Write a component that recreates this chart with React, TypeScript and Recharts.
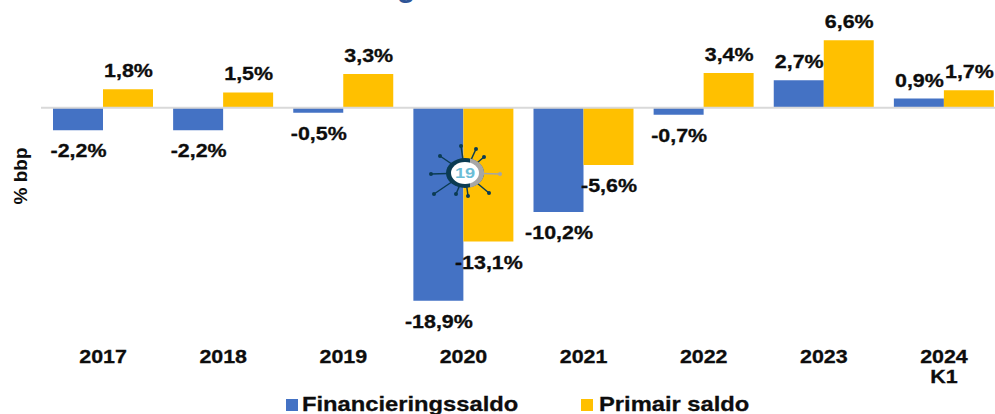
import { BarChart, Bar, XAxis, YAxis, Legend, LabelList, ReferenceLine } from 'recharts';

const years = ['2017', '2018', '2019', '2020', '2021', '2022', '2023', '2024 K1'];
const financieringssaldo = [-2.2, -2.2, -0.5, -18.9, -10.2, -0.7, 2.7, 0.9];
const primairSaldo = [1.8, 1.5, 3.3, -13.1, -5.6, 3.4, 6.6, 1.7];

const BLUE = '#4472C4';
const YELLOW = '#FFC000';
const INK = '#0d0d0d';
const FONT = '"Liberation Sans", Arial, sans-serif';
const STRETCH = 1.19; // the picture is stretched sideways

const data = years.map((year, i) => ({
  year,
  fin: financieringssaldo[i],
  prim: primairSaldo[i],
}));

const renderBarLabel = (props: any) => {
  const { x, y, width, height, value } = props;
  const top = Math.min(y, y + height);
  const bottom = Math.max(y, y + height);
  const ty = value < 0 ? bottom + 27 : top - 12;
  return (
    <text
      transform={`translate(${x + width / 2 + 0.5},${ty}) scale(${STRETCH},1)`}
      textAnchor="middle"
      fontFamily={FONT}
      fontWeight="bold"
      fontSize={18}
      fill={INK}
      stroke={INK}
      strokeWidth={0.3}
    >
      {`${String(value).replace('.', ',')}%`}
    </text>
  );
};

const YearTick = (props: any) => {
  const { x, y, payload } = props;
  const lines = String(payload.value).split(' ');
  return (
    <g>
      {lines.map((line: string, i: number) => (
        <text
          key={line}
          transform={`translate(${x},${y + 43 + i * 20}) scale(${STRETCH},1)`}
          textAnchor="middle"
          fontFamily={FONT}
          fontWeight="bold"
          fontSize={18}
          fill={INK}
          stroke={INK}
          strokeWidth={0.3}
        >
          {line}
        </text>
      ))}
    </g>
  );
};

const renderLegend = (props: any) => {
  const lefts = [286, 581];
  const gaps = [4, 6];
  return (
    <div style={{ position: 'relative', width: 995, height: 24 }}>
      {props.payload.map((entry: any, i: number) => (
        <div key={entry.value} style={{ position: 'absolute', left: lefts[i], top: 0, display: 'flex', alignItems: 'center' }}>
          <span style={{ width: 12, height: 12, background: entry.color, marginTop: 2 }} />
          <span
            style={{
              marginLeft: gaps[i],
              fontFamily: FONT,
              fontWeight: 'bold',
              fontSize: 21,
              color: INK,
              WebkitTextStroke: '0.3px #0d0d0d',
              transform: 'scaleX(1.13)',
              transformOrigin: 'left center',
              whiteSpace: 'nowrap',
            }}
          >
            {entry.value}
          </span>
        </div>
      ))}
    </div>
  );
};

// the small corona badge on the 2020 bars
const spikes = [
  [461, 146], [476, 149], [484, 157], [440, 156], [431, 174],
  [434, 194], [456, 194], [468, 196], [489, 193],
];

// bars paint over svg children of the chart, so this sits in its own svg on top
const CovidBadge = () => (
  <svg width={995} height={414} style={{ position: 'absolute', left: 0, top: 0, pointerEvents: 'none' }}>
    <line x1={465} y1={173} x2={500} y2={174} stroke="#a6a6a6" strokeWidth={1.5} />
    <circle cx={500} cy={174} r={2} fill="#a6a6a6" />
    {spikes.map(([sx, sy]) => (
      <g key={`${sx}-${sy}`}>
        <line x1={465} y1={173} x2={sx} y2={sy} stroke="#0b3b52" strokeWidth={1.5} />
        <circle cx={sx} cy={sy} r={2} fill="#0b3b52" />
      </g>
    ))}
    <ellipse cx={465} cy={173} rx={19} ry={15} fill="#0b3b52" />
    <path d="M 470 158.5 A 19 15 0 0 1 470 187.5 Z" fill="#a6a6a6" />
    <ellipse cx={465} cy={173} rx={14} ry={11} fill="#ffffff" />
    <text
      transform="translate(465,178) scale(1.3,1)"
      textAnchor="middle"
      fontFamily={FONT}
      fontWeight="bold"
      fontSize={14}
      fill="#6bbdd6"
    >
      19
    </text>
  </svg>
);

const App = () => {
  return (
    <div style={{ position: 'absolute', left: 0, top: 0, width: 995, height: 414, overflow: 'hidden' }}>
      <BarChart
        width={1004}
        height={414}
        data={data}
        margin={{ top: 26, right: 0, bottom: 42, left: 0 }}
        barCategoryGap={10}
        barGap={0}
      >
        <XAxis
          dataKey="year"
          axisLine={false}
          tickLine={false}
          height={60}
          interval={0}
          padding={{ left: 2, right: 0 }}
          tick={<YearTick />}
        />
        <YAxis width={41} domain={[-20, 8]} tick={false} tickLine={false} axisLine={false} />
        <ReferenceLine y={0} stroke="#d9d9d9" strokeWidth={2} />
        <Legend
          verticalAlign="middle"
          layout="horizontal"
          wrapperStyle={{ top: 392, left: 0, width: 995 }}
          content={renderLegend}
        />
        <Bar dataKey="fin" name="Financieringssaldo" fill={BLUE} isAnimationActive={false}>
          <LabelList dataKey="fin" content={renderBarLabel} />
        </Bar>
        <Bar dataKey="prim" name="Primair saldo" fill={YELLOW} isAnimationActive={false}>
          <LabelList dataKey="prim" content={renderBarLabel} />
        </Bar>
        <text x={397} y={-3} fontFamily={FONT} fontWeight="bold" fontSize={30} fill="#2f5597">
          g
        </text>
        <text
          transform="translate(27,176) rotate(-90)"
          textAnchor="middle"
          fontFamily={FONT}
          fontWeight="bold"
          fontSize={19}
          fill={INK}
        >
          % bbp
        </text>
      </BarChart>
      <CovidBadge />
    </div>
  );
};

export default App;
